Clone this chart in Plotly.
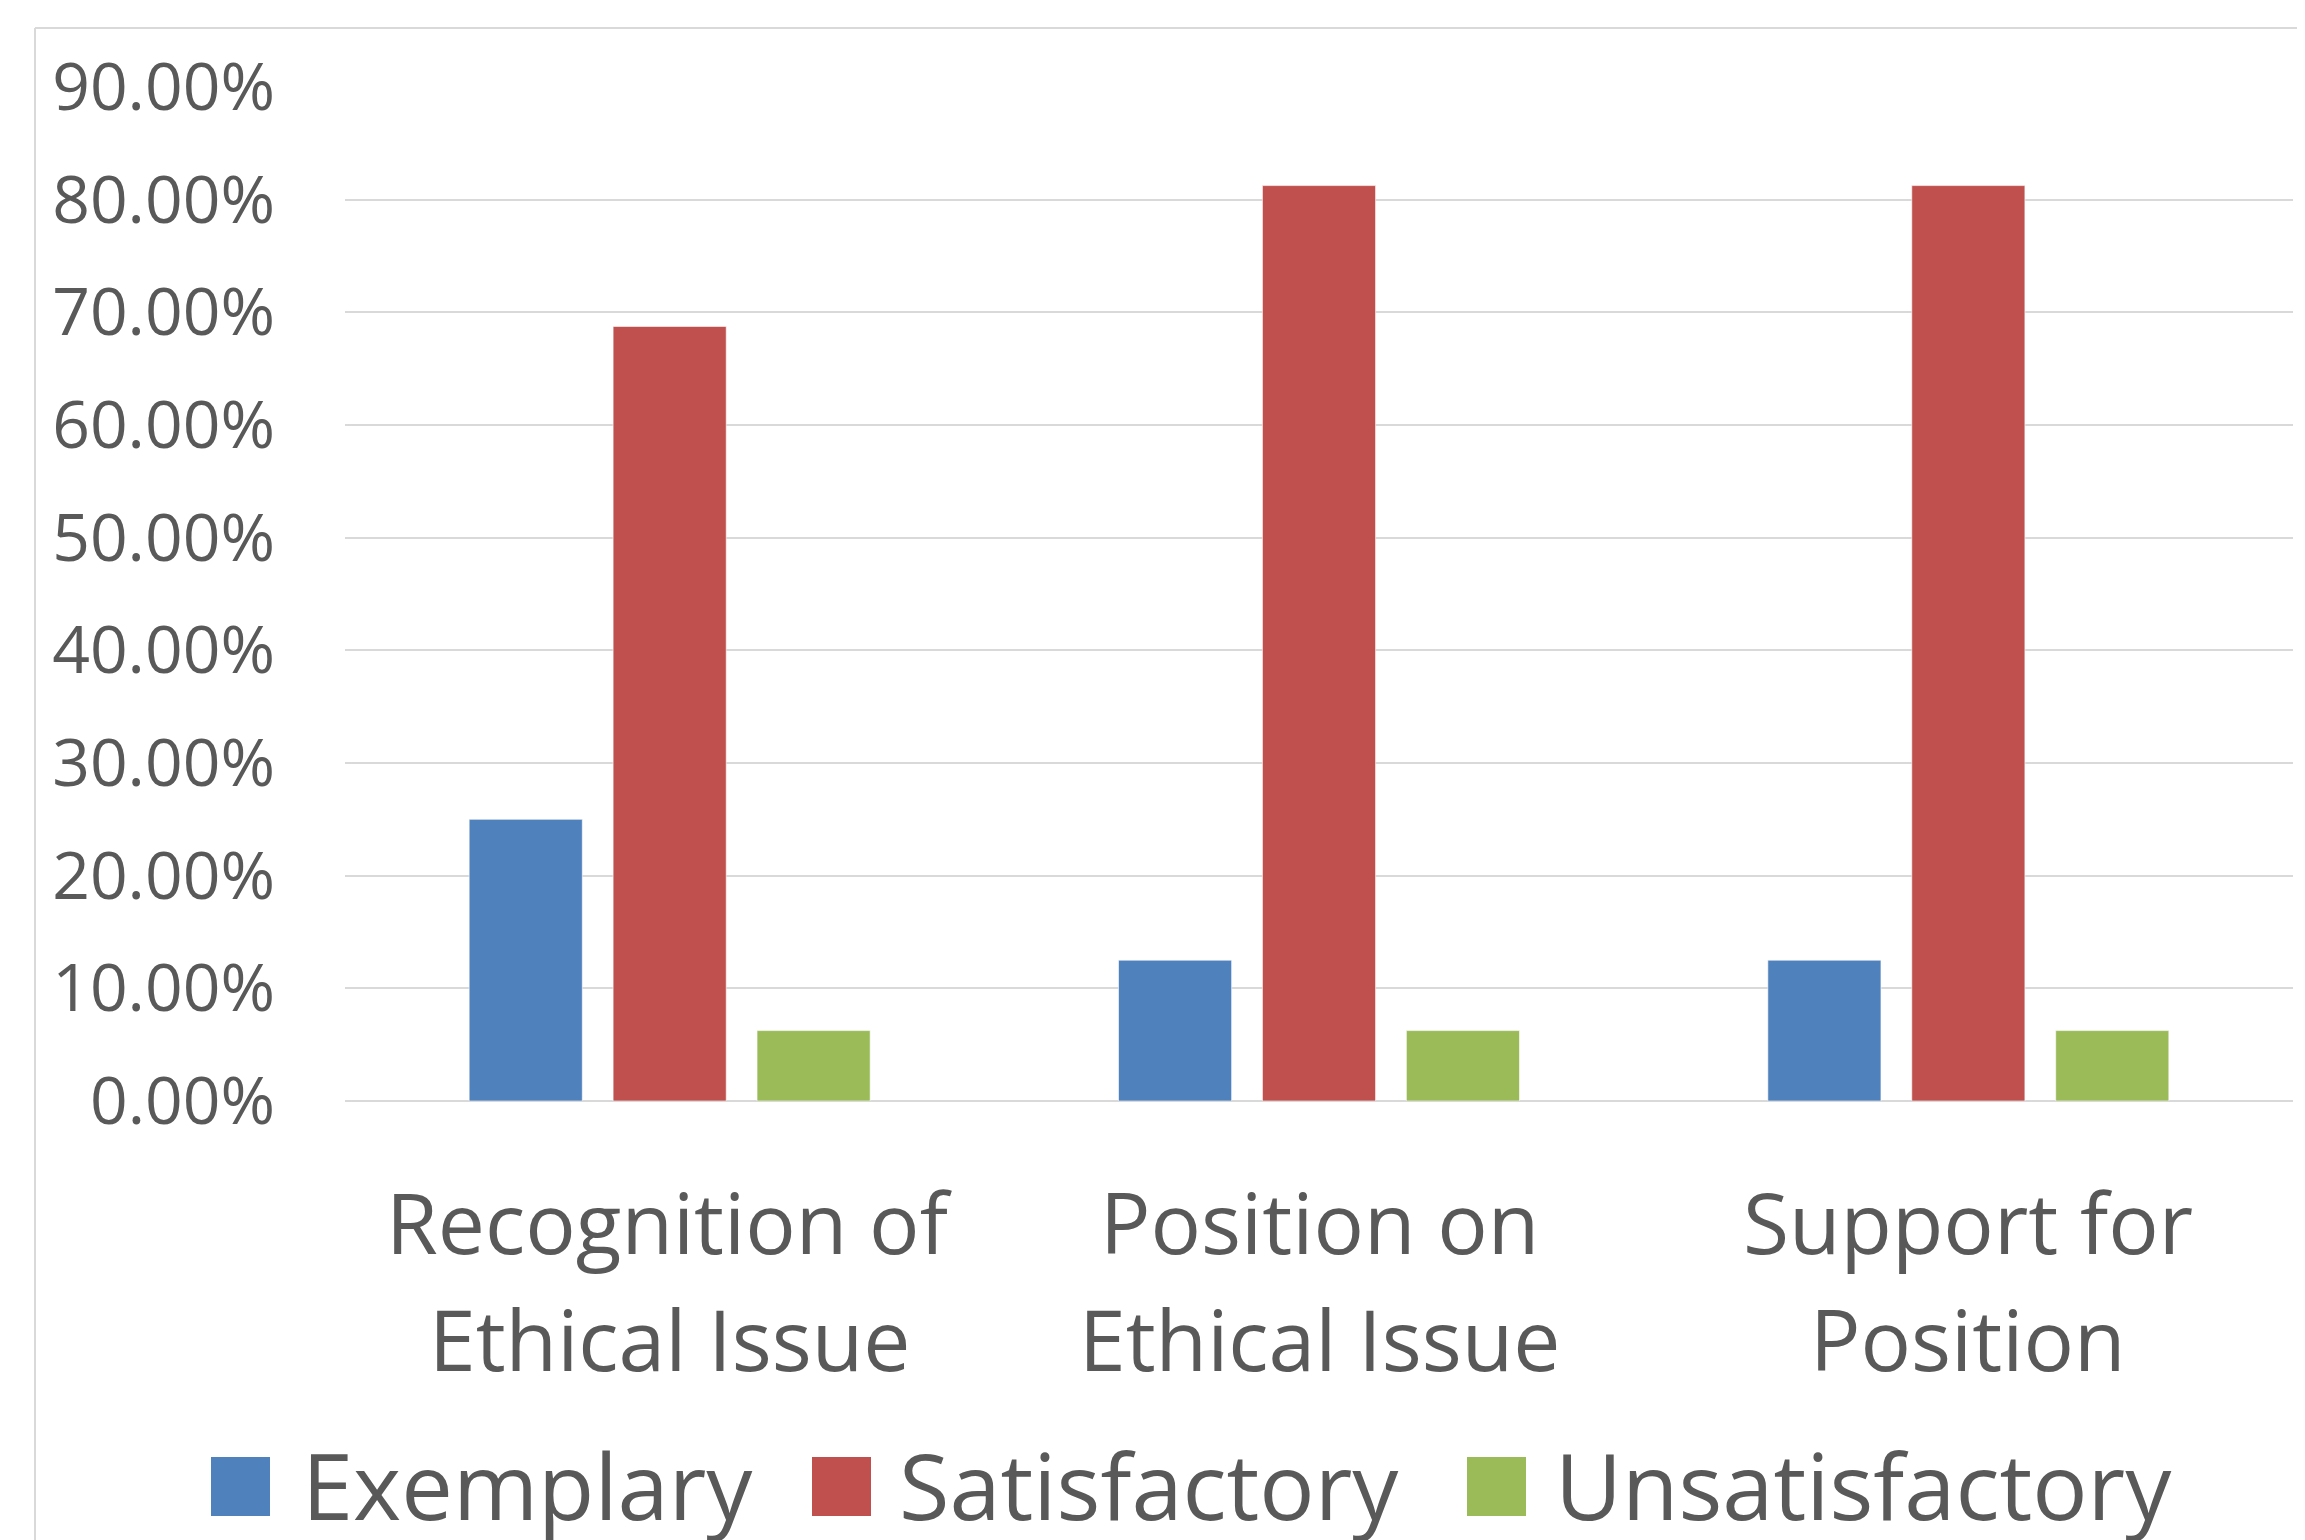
import plotly.graph_objects as go

categories = ["Recognition of Ethical Issue", "Position on Ethical Issue", "Support for Position"]
label_line1 = ["Recognition of", "Position on", "Support for"]
label_line2 = ["Ethical Issue", "Ethical Issue", "Position"]
series_names = ["Exemplary", "Satisfactory", "Unsatisfactory"]
exemplary = [0.25, 0.125, 0.125]
satisfactory = [0.6875, 0.8125, 0.8125]
unsatisfactory = [0.0625, 0.0625, 0.0625]
y_ticks = [0.0, 0.1, 0.2, 0.3, 0.4, 0.5, 0.6, 0.7, 0.8, 0.9]

colors = ["#4F81BD", "#C0504D", "#9BBB59"]
values = [exemplary, satisfactory, unsatisfactory]

OFF = 8  # page body margin
W, H = 2305, 1540
L, T = 345 - OFF, 87 - OFF
R = W - (2293 - OFF)
B = H - (1101 - OFF)
pw, ph = W - L - R, H - T - B

def px_x(x):  # x in reference screen pixels
    return (x - OFF - L) / pw

def px_y(y):
    return (H - B - (y - OFF)) / ph

FONT = "Open Sans"
GREY = "#595959"

fig = go.Figure()
for name, vals, col in zip(series_names, values, colors):
    fig.add_trace(go.Bar(
        x=categories, y=vals, name=name,
        marker=dict(color=col, line=dict(color="rgba(255,255,255,0.6)", width=1)),
        showlegend=False,
    ))

shapes = []
annotations = []

# category labels (two lines with the original's wider line spacing)
for cat, l1, l2 in zip(categories, label_line1, label_line2):
    for txt, yc in ((l1, 1221), (l2, 1338)):
        annotations.append(dict(xref="x", yref="paper", x=cat, y=px_y(yc),
                                text=txt, showarrow=False, xanchor="center", yanchor="middle",
                                font=dict(family=FONT, size=84, color=GREY)))

# custom legend (large swatches like the original)
legend_swatch_x = [211, 812, 1467]
legend_text_x = [300, 897, 1553]
sw = 59
sy0, sy1 = 1457, 1516
for name, col, sx, tx in zip(series_names, colors, legend_swatch_x, legend_text_x):
    shapes.append(dict(type="rect", xref="paper", yref="paper",
                       x0=px_x(sx), x1=px_x(sx + sw), y0=px_y(sy1), y1=px_y(sy0),
                       fillcolor=col, line=dict(width=0)))
    annotations.append(dict(xref="paper", yref="paper", x=px_x(tx), y=px_y(1484),
                            text=name, showarrow=False, xanchor="left", yanchor="middle",
                            font=dict(family=FONT, size=92, color=GREY)))

# outer chart border (cropped on the right and bottom)
shapes.append(dict(type="line", xref="paper", yref="paper",
                   x0=px_x(35), x1=px_x(2400), y0=px_y(28), y1=px_y(28),
                   line=dict(color="#D9D9D9", width=2)))
shapes.append(dict(type="line", xref="paper", yref="paper",
                   x0=px_x(35), x1=px_x(35), y0=px_y(28), y1=px_y(1600),
                   line=dict(color="#D9D9D9", width=2)))

fig.update_layout(
    width=W, height=H,
    margin=dict(l=L, r=R, t=T, b=B, pad=0),
    paper_bgcolor="white", plot_bgcolor="white",
    barmode="group", bargap=0.335, bargroupgap=0.214,
    shapes=shapes, annotations=annotations,
    showlegend=False,
    font=dict(family=FONT, color=GREY),
)
fig.update_xaxes(showticklabels=False, showgrid=False, showline=False, ticks="")
fig.update_yaxes(
    range=[0, 0.9], tickvals=y_ticks, tickformat=".2%",
    tickfont=dict(family=FONT, size=66, color=GREY),
    showgrid=True, gridcolor="#D9D9D9", gridwidth=2,
    zeroline=True, zerolinecolor="#D9D9D9", zerolinewidth=2,
    showline=False, ticks="", ticklabelstandoff=69,
)

fig.write_html("out.html")
